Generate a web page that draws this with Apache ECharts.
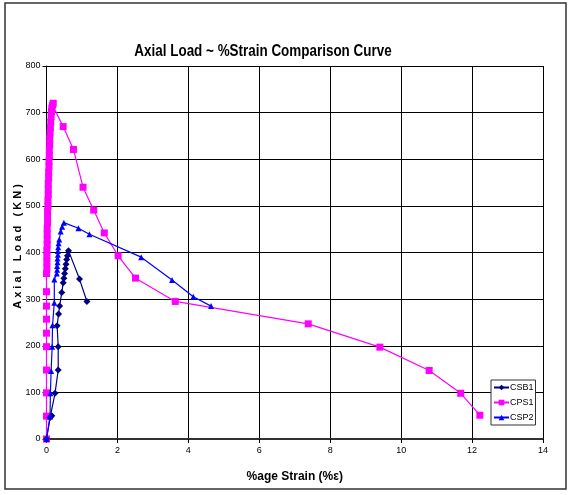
<!DOCTYPE html>
<html>
<head>
<meta charset="utf-8">
<script src="https://cdn.jsdelivr.net/npm/echarts@6/dist/echarts.min.js"></script>
<style>
  html, body { margin: 0; padding: 0; background: #fff; }
  #chart { width: 572px; height: 495px; }
</style>
</head>
<body>
<div id="chart"></div>
<script>
// Axial load (kN) against percentage strain for three specimens
const csb1Strain = [0, 0.10, 0.15, 0.24, 0.33, 0.33, 0.30, 0.34, 0.37, 0.43, 0.47, 0.49, 0.51, 0.53, 0.55, 0.57, 0.59, 0.62, 0.93, 1.14];
const csb1Load   = [0, 46, 50, 98, 148, 198, 243, 268, 285, 314, 335, 345, 355, 365, 375, 385, 393, 404, 343, 295];

const cps1Strain = [0, 0, 0, 0, 0, 0, 0, 0, 0, 0, 0.01, 0.01, 0.01, 0.01, 0.02, 0.02, 0.02, 0.02, 0.03, 0.03, 0.03, 0.04, 0.04, 0.05, 0.05, 0.05, 0.06, 0.06, 0.07, 0.07, 0.08, 0.08, 0.09, 0.09, 0.10, 0.11, 0.12, 0.13, 0.14, 0.15, 0.17, 0.19, 0.47, 0.76, 1.03, 1.33, 1.63, 2.02, 2.51, 3.63, 7.38, 9.40, 10.79, 11.68, 12.22];
const cps1Load   = [0, 49, 99, 148, 198, 227, 257, 285, 316, 355, 367, 380, 392, 404, 416, 428, 440, 452, 464, 476, 488, 500, 512, 524, 536, 548, 560, 572, 584, 596, 608, 620, 632, 644, 656, 668, 680, 692, 702, 710, 716, 720, 670, 621, 540, 491, 442, 393, 345, 295, 247, 197, 147, 98, 51];

const csp2Strain = [0, 0.10, 0.11, 0.13, 0.16, 0.17, 0.22, 0.22, 0.29, 0.30, 0.30, 0.31, 0.31, 0.32, 0.32, 0.33, 0.34, 0.36, 0.40, 0.44, 0.49, 0.90, 1.21, 2.67, 3.54, 4.14, 4.64];
const csp2Load   = [0, 48, 98, 146, 198, 244, 292, 342, 355, 363, 371, 379, 387, 395, 403, 411, 420, 428, 445, 455, 464, 452, 439, 390, 341, 305, 285];

const seriesNames = ['CSB1', 'CPS1', 'CSP2'];
const xTicks = [0, 2, 4, 6, 8, 10, 12, 14];
const yTicks = [0, 100, 200, 300, 400, 500, 600, 700, 800];

const pairs = (xs, ys) => xs.map((x, i) => [x, ys[i]]);

const sans = "'Liberation Sans', Arial, sans-serif";

const chart = echarts.init(document.getElementById('chart'), null, { renderer: 'canvas' });

chart.setOption({
  animation: false,
  backgroundColor: '#ffffff',
  graphic: [
    {
      type: 'rect',
      shape: { x: 5, y: 3, width: 561, height: 486 },
      style: { fill: 'none', stroke: '#333', lineWidth: 1.5 },
      silent: true,
      z: -1
    },
    {
      // chart title, set in a condensed bold face
      type: 'text',
      x: 263,
      y: 52,
      scaleX: 0.84,
      style: {
        text: 'Axial Load ~ %Strain Comparison Curve',
        fontFamily: sans,
        fontWeight: 'bold',
        fontSize: 16,
        fill: '#000',
        align: 'center',
        verticalAlign: 'middle'
      },
      silent: true
    }
  ],
  legend: {
    orient: 'vertical',
    left: 491,
    top: 380,
    padding: [3, 2, 3, 2],
    itemGap: 6,
    itemWidth: 15,
    itemHeight: 7,
    borderColor: '#333',
    borderWidth: 1,
    backgroundColor: '#fff',
    textStyle: { fontFamily: sans, fontSize: 9, color: '#000', padding: [0, 0, 0, -4] },
    data: seriesNames
  },
  grid: { left: 46.5, right: 29, top: 66, bottom: 56, outerBoundsMode: 'none' },
  xAxis: {
    type: 'value',
    min: xTicks[0],
    max: xTicks[xTicks.length - 1],
    interval: 2,
    name: '%age Strain (%\u03b5)',
    nameLocation: 'middle',
    nameGap: 32,
    nameMoveOverlap: false,
    nameTextStyle: { fontFamily: sans, fontWeight: 'bold', fontSize: 12, color: '#000' },
    axisLine: { show: true, onZero: false, lineStyle: { color: '#333', width: 2 } },
    axisTick: { show: true, length: 4, lineStyle: { color: '#000' } },
    axisLabel: { fontFamily: sans, fontSize: 9, color: '#000', margin: 7 },
    splitLine: { show: true, lineStyle: { color: '#000', width: 1 } }
  },
  yAxis: {
    type: 'value',
    min: yTicks[0],
    max: yTicks[yTicks.length - 1],
    interval: 100,
    name: 'A x i a l   L o a d   ( K N )',
    nameLocation: 'middle',
    nameRotate: 90,
    nameGap: 23,
    nameMoveOverlap: false,
    nameTextStyle: { fontFamily: sans, fontWeight: 'bold', fontSize: 11, color: '#000', padding: [0, 0, 0, 12] },
    axisLine: { show: true, onZero: false, lineStyle: { color: '#000', width: 1 } },
    axisTick: { show: true, length: 4, lineStyle: { color: '#000' } },
    axisLabel: { fontFamily: sans, fontSize: 9, color: '#000', margin: 6 },
    splitLine: { show: true, lineStyle: { color: '#000', width: 1 } }
  },
  series: [
    {
      name: seriesNames[0],
      type: 'line',
      data: pairs(csb1Strain, csb1Load),
      symbol: 'diamond',
      symbolSize: 7,
      z: 3,
      itemStyle: { color: '#000080' },
      lineStyle: { color: '#000080', width: 1.2 }
    },
    {
      name: seriesNames[1],
      type: 'line',
      data: pairs(cps1Strain, cps1Load),
      symbol: 'rect',
      symbolSize: 7,
      z: 2,
      itemStyle: { color: '#ff00ff' },
      lineStyle: { color: '#ff00ff', width: 1.2 }
    },
    {
      name: seriesNames[2],
      type: 'line',
      data: pairs(csp2Strain, csp2Load),
      symbol: 'triangle',
      symbolSize: 6,
      z: 4,
      itemStyle: { color: '#0000ff' },
      lineStyle: { color: '#0000ff', width: 1.2 }
    }
  ]
});
</script>
</body>
</html>
